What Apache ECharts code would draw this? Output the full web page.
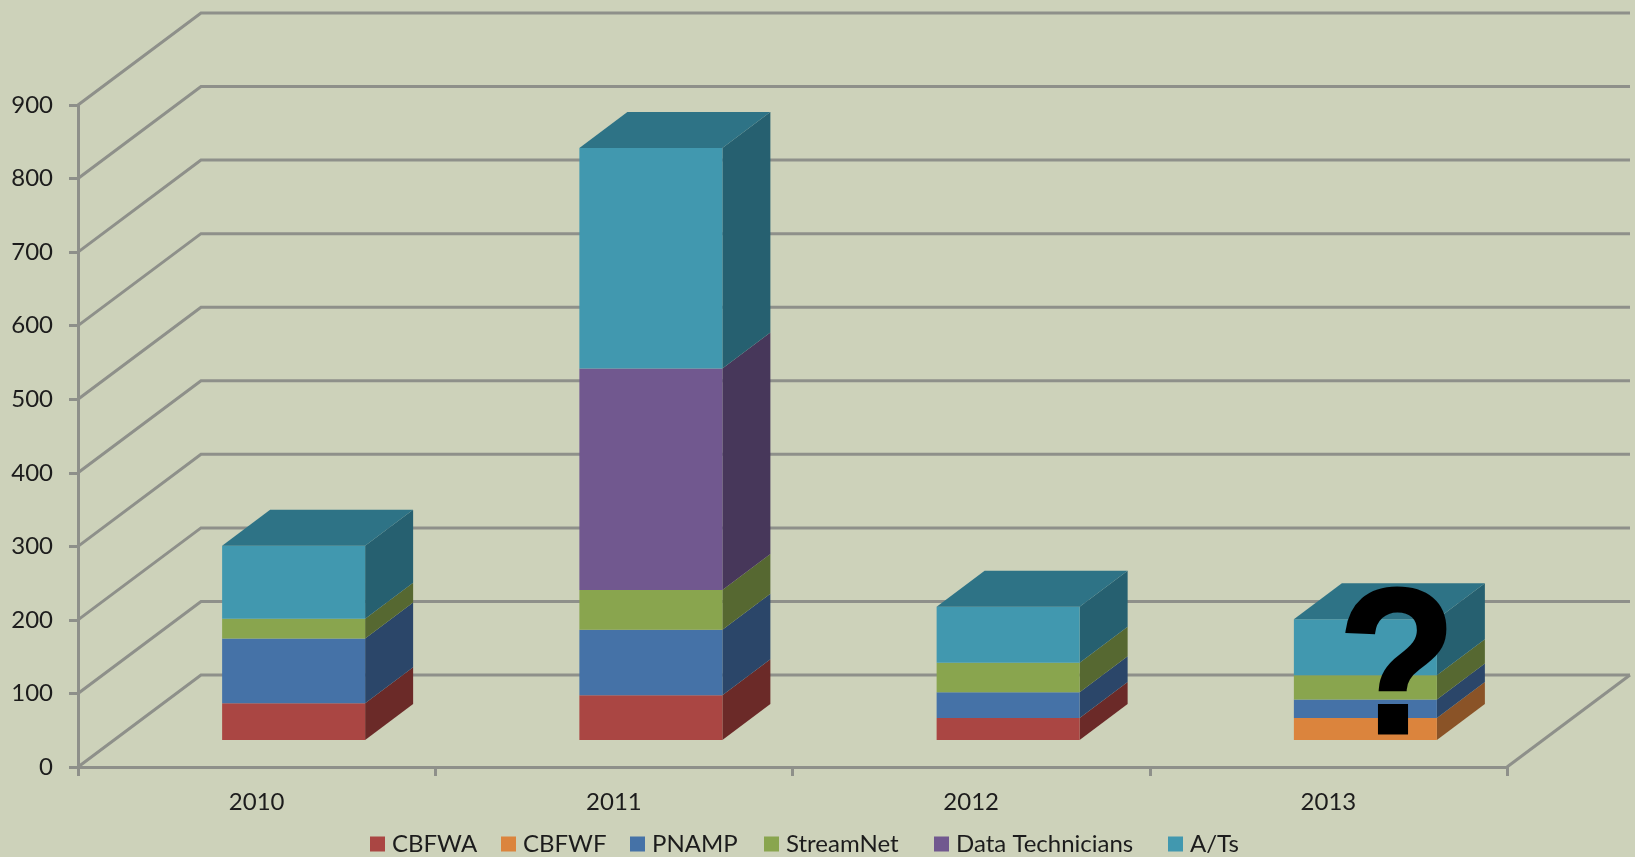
<!DOCTYPE html>
<html>
<head>
<meta charset="utf-8">
<title>Stacked bars by year</title>
<script src="https://cdn.jsdelivr.net/npm/echarts@6/dist/echarts.min.js"></script>
<style>
  html, body { margin: 0; padding: 0; background: #cdd2ba; }
  #chart { width: 1635px; height: 857px; }
</style>
</head>
<body>
<div id="chart"></div>
<script>
// Data
const years = ['2010', '2011', '2012', '2013'];
const yTicks = [0, 100, 200, 300, 400, 500, 600, 700, 800, 900];
const cbfwa = [50, 61, 30, 0];
const cbfwf = [0, 0, 0, 30];
const pnamp = [88, 89, 35, 25];
const streamNet = [27, 54, 40, 33];
const dataTechnicians = [0, 301, 0, 0];
const aTs = [99, 300, 76, 76];

const stackNames = ['CBFWA', 'CBFWF', 'PNAMP', 'StreamNet', 'Data Technicians', 'A/Ts'];
const stackValues = [cbfwa, cbfwf, pnamp, streamNet, dataTechnicians, aTs];
const frontColors = ['#aa4643', '#db843d', '#4572a7', '#89a54e', '#71588f', '#4198af'];
const sideColors = ['#6b2a28', '#8a5327', '#2b4669', '#566831', '#47375a', '#266070'];
const topColor = '#2e7386';
const gridColor = '#8e908a';
const textColor = '#1c1c1c';

// Each legend entry sits at its own x, the label widths differ from the original font
const legendLefts = [370, 501, 630, 764, 934, 1168];

// Fake 3D projection, in pixels
const wallDx = 123;
const wallDy = -92;
const barShiftX = 37;
const barShiftY = -27;
const barWidth = 143;
const sideDx = 48;
const sideDy = -36;

const stackTotal = (s, i) => stackValues.slice(0, s).reduce((sum, arr) => sum + arr[i], 0);
const isTopOfStack = (s, i) => stackValues.slice(s + 1).every(arr => arr[i] === 0);

// Side wall and back wall lines, one per tick
const renderWall = (params, api) => {
  const p = api.coord([0, api.value(1)]);
  const band = api.size([1, 0])[0];
  const left = p[0] - band / 2;
  const right = left + band * years.length;
  const lineStyle = { stroke: gridColor, lineWidth: 3, fill: null };
  const points = [[left, p[1]], [left + wallDx, p[1] + wallDy], [right + wallDx, p[1] + wallDy]];
  const children = [{ type: 'polyline', shape: { points }, style: lineStyle }];
  if (api.value(1) === 0) {
    children.push({
      type: 'line',
      shape: { x1: right, y1: p[1], x2: right + wallDx, y2: p[1] + wallDy },
      style: lineStyle
    });
  }
  return { type: 'group', children };
};

const renderSegment = (s) => (params, api) => {
  const i = api.value(0);
  const value = api.value(1);
  if (!value) return null;
  const base = stackTotal(s, i);
  const low = api.coord([i, base]);
  const high = api.coord([i, base + value]);
  const x1 = low[0] + barShiftX - barWidth / 2;
  const x2 = x1 + barWidth;
  const y1 = low[1] + barShiftY;
  const y2 = high[1] + barShiftY;
  const children = [
    {
      type: 'polygon',
      shape: { points: [[x2, y1], [x2 + sideDx, y1 + sideDy], [x2 + sideDx, y2 + sideDy], [x2, y2]] },
      style: { fill: sideColors[s] }
    },
    {
      type: 'rect',
      shape: { x: x1, y: y2, width: barWidth, height: y1 - y2 },
      style: { fill: frontColors[s] }
    }
  ];
  if (isTopOfStack(s, i)) {
    children.push({
      type: 'polygon',
      shape: { points: [[x1, y2], [x1 + sideDx, y2 + sideDy], [x2 + sideDx, y2 + sideDy], [x2, y2]] },
      style: { fill: topColor }
    });
  }
  return { type: 'group', children };
};

const chart = echarts.init(document.getElementById('chart'));

const stackSeries = stackNames.map((name, s) => ({
  name,
  type: 'custom',
  z: 3,
  itemStyle: { color: frontColors[s] },
  renderItem: renderSegment(s),
  data: stackValues[s].map((v, i) => [i, v])
}));

chart.setOption({
  animation: false,
  backgroundColor: '#cdd2ba',
  textStyle: { fontFamily: 'Lato' },
  grid: { left: 78, right: 128, top: 105, bottom: 90 },
  legend: stackNames.map((name, s) => ({
    data: [name],
    left: legendLefts[s] - 5,
    top: 827,
    icon: 'rect',
    itemWidth: 15,
    itemHeight: 15,
    selectedMode: false,
    textStyle: { fontFamily: 'Lato', fontSize: 24, color: textColor, padding: [0, 0, 0, 2] }
  })),
  xAxis: {
    type: 'category',
    data: years,
    axisLine: { lineStyle: { color: gridColor, width: 3 } },
    axisTick: { show: true, length: 9, lineStyle: { color: gridColor, width: 3 } },
    axisLabel: { fontFamily: 'Lato', fontSize: 24, color: textColor, margin: 23 },
    splitLine: { show: false }
  },
  yAxis: {
    type: 'value',
    min: 0,
    max: 900,
    interval: 100,
    axisLine: { show: true, lineStyle: { color: gridColor, width: 3 } },
    axisTick: { show: true, length: 9, lineStyle: { color: gridColor, width: 3 } },
    axisLabel: { fontFamily: 'Lato', fontSize: 24, color: textColor, margin: 25, padding: [3, 0, 0, 0] },
    splitLine: { show: false }
  },
  graphic: [{
    type: 'text',
    z: 100,
    x: 1397,
    y: 676,
    scaleX: 0.93,
    style: {
      text: '?',
      fill: '#000',
      stroke: '#000',
      lineWidth: 3,
      font: 'bold 208px "Liberation Sans"',
      align: 'center',
      verticalAlign: 'middle'
    }
  }],
  series: [
    {
      name: 'wall',
      type: 'custom',
      z: 1,
      silent: true,
      renderItem: renderWall,
      data: yTicks.map(v => [0, v])
    },
    ...stackSeries
  ]
});
</script>
</body>
</html>
